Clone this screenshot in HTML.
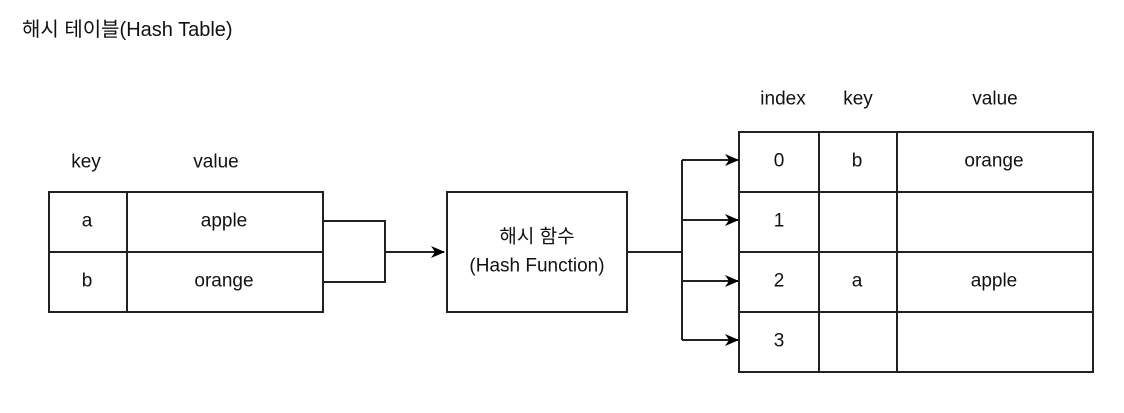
<!DOCTYPE html>
<html><head><meta charset="utf-8"><style>
body{margin:0;background:#fff}
svg text{font-family:"Liberation Sans","Noto Sans CJK KR",sans-serif;font-size:19px;fill:#111;text-anchor:middle;dominant-baseline:central}
</style></head><body>
<svg width="1124" height="408" viewBox="0 0 1124 408" xmlns="http://www.w3.org/2000/svg">
<defs><marker id="a" markerWidth="14" markerHeight="14" refX="13" refY="7" orient="auto" markerUnits="userSpaceOnUse"><path d="M0,1 L14,7 L0,13 L4,7 Z" fill="#000"/></marker></defs>
<text x="22" y="30" style="text-anchor:start;font-size:20px">해시 테이블(Hash Table)</text>
<g stroke="#222" stroke-width="2" fill="none">
<rect x="49" y="192" width="274" height="120"/>
<line x1="127" y1="192" x2="127" y2="312"/>
<line x1="49" y1="252" x2="323" y2="252"/>
<polyline points="323,221 385,221 385,282 323,282"/>
<line x1="385" y1="252" x2="444" y2="252" marker-end="url(#a)"/>
<rect x="447" y="192" width="180" height="120"/>
<line x1="627" y1="252" x2="682" y2="252"/>
<line x1="682" y1="160" x2="682" y2="340"/>
<line x1="682" y1="160" x2="738" y2="160" marker-end="url(#a)"/>
<line x1="682" y1="220" x2="738" y2="220" marker-end="url(#a)"/>
<line x1="682" y1="281" x2="738" y2="281" marker-end="url(#a)"/>
<line x1="682" y1="340" x2="738" y2="340" marker-end="url(#a)"/>
<rect x="739" y="132" width="354" height="240"/>
<line x1="819" y1="132" x2="819" y2="372"/>
<line x1="897" y1="132" x2="897" y2="372"/>
<line x1="739" y1="192" x2="1093" y2="192"/>
<line x1="739" y1="252" x2="1093" y2="252"/>
<line x1="739" y1="312" x2="1093" y2="312"/>
</g>
<text x="86" y="162">key</text><text x="216" y="162">value</text>
<text x="87" y="221">a</text><text x="224" y="221">apple</text>
<text x="87" y="281">b</text><text x="224" y="281">orange</text>
<text x="537" y="237">해시 함수</text><text x="537" y="266">(Hash Function)</text>
<text x="783" y="99">index</text><text x="858" y="99">key</text><text x="995" y="99">value</text>
<text x="779" y="161">0</text><text x="857" y="161">b</text><text x="994" y="161">orange</text>
<text x="779" y="221">1</text>
<text x="779" y="281">2</text><text x="857" y="281">a</text><text x="994" y="281">apple</text>
<text x="779" y="341">3</text>
</svg>
</body></html>
